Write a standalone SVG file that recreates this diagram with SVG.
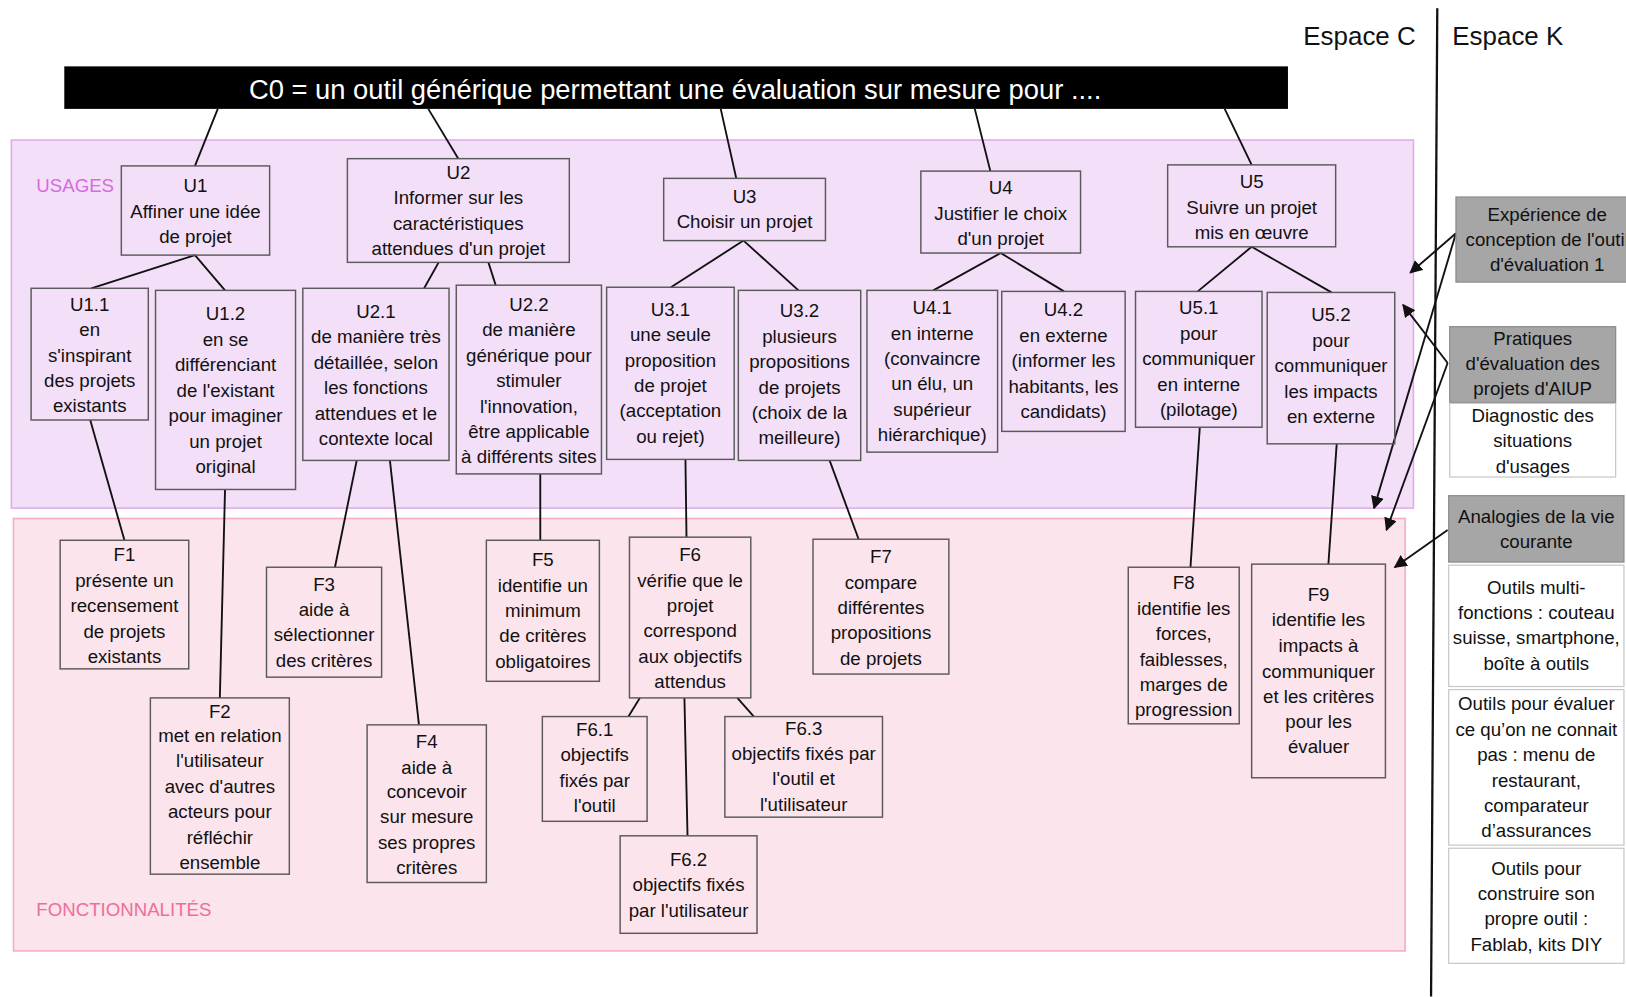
<svg xmlns="http://www.w3.org/2000/svg" width="1626" height="997" viewBox="0 0 1626 997">
<defs>
<style>
.t{font-family:"Liberation Sans",Arial,sans-serif;font-size:18px;text-anchor:middle;fill:#111}
.b{fill:none;stroke:#5a5a5a;stroke-width:1.4}
.g{fill:#a6a6a6;stroke:#8c8c8c;stroke-width:1.2}
.w{fill:#fff;stroke:#c8c8c8;stroke-width:1.2}
.c line{stroke:#111;stroke-width:1.8}
.a line{stroke:#111;stroke-width:1.8}
</style>
<marker id="ah" viewBox="0 0 10 10" refX="9" refY="5" markerWidth="7" markerHeight="7" orient="auto" markerUnits="strokeWidth">
<path d="M0,0 L10,5 L0,10 z" fill="#111"/>
</marker>
</defs>
<rect width="1626" height="997" fill="#fff"/>
<g transform="scale(1.037)">
<!-- regions -->
<g id="usages">
<rect x="11" y="135" width="1352" height="355" fill="#f3dff7" stroke="#e2a9f0" stroke-width="1.5"/>
<text x="35" y="185" style="font-family:'Liberation Sans',Arial,sans-serif;font-size:18px;fill:#d66be0">USAGES</text>
</g>
<g id="fonctionnalites">
<rect x="13" y="500" width="1342" height="417" fill="#fbe4ec" stroke="#f5aac5" stroke-width="1.5"/>
<text x="35" y="883" style="font-family:'Liberation Sans',Arial,sans-serif;font-size:18px;fill:#ef6d9b">FONCTIONNALITÉS</text>
</g>
<!-- headers -->
<g id="espaces">
<text x="1311" y="43" style="font-family:'Liberation Sans',Arial,sans-serif;font-size:25px;fill:#111;text-anchor:middle">Espace C</text>
<text x="1454" y="43" style="font-family:'Liberation Sans',Arial,sans-serif;font-size:25px;fill:#111;text-anchor:middle">Espace K</text>
<line x1="1386" y1="8" x2="1380" y2="961" stroke="#111" stroke-width="2.2"/>
</g>
<g id="C0">
<rect x="62" y="64" width="1180" height="41" fill="#000"/>
<text x="651" y="95" textLength="822" lengthAdjust="spacingAndGlyphs" style="font-family:'Liberation Sans',Arial,sans-serif;font-size:27px;fill:#fff;text-anchor:middle">C0 = un outil générique permettant une évaluation sur mesure pour ....</text>
</g>
<!-- connectors -->
<g id="connectors" class="c">
<line x1="210" y1="105" x2="188" y2="160"/>
<line x1="413" y1="105" x2="442" y2="153"/>
<line x1="695" y1="105" x2="710" y2="172"/>
<line x1="940" y1="105" x2="955" y2="165"/>
<line x1="1181" y1="105" x2="1207" y2="159"/>
<line x1="188" y1="246" x2="88" y2="278"/>
<line x1="188" y1="246" x2="217" y2="280"/>
<line x1="423" y1="253" x2="409" y2="278"/>
<line x1="471" y1="253" x2="478" y2="275"/>
<line x1="717" y1="232" x2="647" y2="277"/>
<line x1="717" y1="232" x2="770" y2="280"/>
<line x1="965" y1="244" x2="900" y2="280"/>
<line x1="965" y1="244" x2="1026" y2="281"/>
<line x1="1207" y1="238" x2="1155" y2="281"/>
<line x1="1207" y1="238" x2="1284" y2="282"/>
<line x1="87" y1="405" x2="120" y2="521"/>
<line x1="217" y1="472" x2="212" y2="673"/>
<line x1="344" y1="444" x2="323" y2="547"/>
<line x1="376" y1="444" x2="404" y2="699"/>
<line x1="521" y1="457" x2="521" y2="521"/>
<line x1="661" y1="443" x2="662" y2="518"/>
<line x1="800" y1="444" x2="828" y2="520"/>
<line x1="1157" y1="412" x2="1148" y2="547"/>
<line x1="1289" y1="428" x2="1281" y2="544"/>
<line x1="617" y1="673" x2="606" y2="691"/>
<line x1="660" y1="673" x2="663" y2="806"/>
<line x1="711" y1="673" x2="727" y2="691"/>
</g>
<g id="arrows" class="a">
<line x1="1404" y1="225" x2="1360" y2="263" marker-end="url(#ah)"/>
<line x1="1404" y1="225" x2="1325" y2="490" marker-end="url(#ah)"/>
<line x1="1396" y1="350" x2="1353" y2="294" marker-end="url(#ah)"/>
<line x1="1396" y1="350" x2="1337" y2="511" marker-end="url(#ah)"/>
<line x1="1396" y1="511" x2="1345" y2="547" marker-end="url(#ah)"/>
</g>
<!-- usage nodes -->
<g id="U1"><rect class="b" x="117" y="160" width="143" height="86"/><text class="t"><tspan x="188.5" y="185">U1</tspan><tspan x="188.5" y="210">Affiner une idée</tspan><tspan x="188.5" y="234">de projet</tspan></text></g>
<g id="U2"><rect class="b" x="335" y="153" width="214" height="100"/><text class="t"><tspan x="442" y="173">U2</tspan><tspan x="442" y="197">Informer sur les</tspan><tspan x="442" y="222">caractéristiques</tspan><tspan x="442" y="246">attendues d'un projet</tspan></text></g>
<g id="U3"><rect class="b" x="640" y="172" width="156" height="60"/><text class="t"><tspan x="718" y="196">U3</tspan><tspan x="718" y="220">Choisir un projet</tspan></text></g>
<g id="U4"><rect class="b" x="888" y="165" width="154" height="79"/><text class="t"><tspan x="965" y="187">U4</tspan><tspan x="965" y="212">Justifier le choix</tspan><tspan x="965" y="236">d'un projet</tspan></text></g>
<g id="U5"><rect class="b" x="1126" y="159" width="162" height="79"/><text class="t"><tspan x="1207" y="181">U5</tspan><tspan x="1207" y="206">Suivre un projet</tspan><tspan x="1207" y="230">mis en œuvre</tspan></text></g>
<g id="U1.1"><rect class="b" x="30" y="278" width="113" height="127"/><text class="t"><tspan x="86.5" y="300">U1.1</tspan><tspan x="86.5" y="324">en</tspan><tspan x="86.5" y="349">s'inspirant</tspan><tspan x="86.5" y="373">des projets</tspan><tspan x="86.5" y="397">existants</tspan></text></g>
<g id="U1.2"><rect class="b" x="150" y="280" width="135" height="192"/><text class="t"><tspan x="217.5" y="309">U1.2</tspan><tspan x="217.5" y="334">en se</tspan><tspan x="217.5" y="358">différenciant</tspan><tspan x="217.5" y="383">de l'existant</tspan><tspan x="217.5" y="407">pour imaginer</tspan><tspan x="217.5" y="432">un projet</tspan><tspan x="217.5" y="456">original</tspan></text></g>
<g id="U2.1"><rect class="b" x="292" y="278" width="141" height="166"/><text class="t"><tspan x="362.5" y="307">U2.1</tspan><tspan x="362.5" y="331">de manière très</tspan><tspan x="362.5" y="356">détaillée, selon</tspan><tspan x="362.5" y="380">les fonctions</tspan><tspan x="362.5" y="405">attendues et le</tspan><tspan x="362.5" y="429">contexte local</tspan></text></g>
<g id="U2.2"><rect class="b" x="440" y="275" width="140" height="182"/><text class="t"><tspan x="510" y="300">U2.2</tspan><tspan x="510" y="324">de manière</tspan><tspan x="510" y="349">générique pour</tspan><tspan x="510" y="373">stimuler</tspan><tspan x="510" y="398">l'innovation,</tspan><tspan x="510" y="422">être applicable</tspan><tspan x="510" y="446">à différents sites</tspan></text></g>
<g id="U3.1"><rect class="b" x="585" y="277" width="123" height="166"/><text class="t"><tspan x="646.5" y="305">U3.1</tspan><tspan x="646.5" y="329">une seule</tspan><tspan x="646.5" y="354">proposition</tspan><tspan x="646.5" y="378">de projet</tspan><tspan x="646.5" y="402">(acceptation</tspan><tspan x="646.5" y="427">ou rejet)</tspan></text></g>
<g id="U3.2"><rect class="b" x="712" y="280" width="118" height="164"/><text class="t"><tspan x="771" y="306">U3.2</tspan><tspan x="771" y="331">plusieurs</tspan><tspan x="771" y="355">propositions</tspan><tspan x="771" y="380">de projets</tspan><tspan x="771" y="404">(choix de la</tspan><tspan x="771" y="428">meilleure)</tspan></text></g>
<g id="U4.1"><rect class="b" x="836" y="280" width="126" height="156"/><text class="t"><tspan x="899" y="303">U4.1</tspan><tspan x="899" y="328">en interne</tspan><tspan x="899" y="352">(convaincre</tspan><tspan x="899" y="376">un élu, un</tspan><tspan x="899" y="401">supérieur</tspan><tspan x="899" y="425">hiérarchique)</tspan></text></g>
<g id="U4.2"><rect class="b" x="966" y="281" width="119" height="135"/><text class="t"><tspan x="1025.5" y="305">U4.2</tspan><tspan x="1025.5" y="330">en externe</tspan><tspan x="1025.5" y="354">(informer les</tspan><tspan x="1025.5" y="379">habitants, les</tspan><tspan x="1025.5" y="403">candidats)</tspan></text></g>
<g id="U5.1"><rect class="b" x="1095" y="281" width="122" height="131"/><text class="t"><tspan x="1156" y="303">U5.1</tspan><tspan x="1156" y="328">pour</tspan><tspan x="1156" y="352">communiquer</tspan><tspan x="1156" y="377">en interne</tspan><tspan x="1156" y="401">(pilotage)</tspan></text></g>
<g id="U5.2"><rect class="b" x="1222" y="282" width="123" height="146"/><text class="t"><tspan x="1283.5" y="310">U5.2</tspan><tspan x="1283.5" y="335">pour</tspan><tspan x="1283.5" y="359">communiquer</tspan><tspan x="1283.5" y="384">les impacts</tspan><tspan x="1283.5" y="408">en externe</tspan></text></g>
<!-- function nodes -->
<g id="F1"><rect class="b" x="58" y="521" width="124" height="124"/><text class="t"><tspan x="120" y="541">F1</tspan><tspan x="120" y="566">présente un</tspan><tspan x="120" y="590">recensement</tspan><tspan x="120" y="615">de projets</tspan><tspan x="120" y="639">existants</tspan></text></g>
<g id="F2"><rect class="b" x="145" y="673" width="134" height="170"/><text class="t"><tspan x="212" y="692">F2</tspan><tspan x="212" y="716">met en relation</tspan><tspan x="212" y="740">l'utilisateur</tspan><tspan x="212" y="765">avec d'autres</tspan><tspan x="212" y="789">acteurs pour</tspan><tspan x="212" y="814">réfléchir</tspan><tspan x="212" y="838">ensemble</tspan></text></g>
<g id="F3"><rect class="b" x="257" y="547" width="111" height="106"/><text class="t"><tspan x="312.5" y="570">F3</tspan><tspan x="312.5" y="594">aide à</tspan><tspan x="312.5" y="618">sélectionner</tspan><tspan x="312.5" y="643">des critères</tspan></text></g>
<g id="F4"><rect class="b" x="354" y="699" width="115" height="152"/><text class="t"><tspan x="411.5" y="721">F4</tspan><tspan x="411.5" y="746">aide à</tspan><tspan x="411.5" y="770">concevoir</tspan><tspan x="411.5" y="794">sur mesure</tspan><tspan x="411.5" y="819">ses propres</tspan><tspan x="411.5" y="843">critères</tspan></text></g>
<g id="F5"><rect class="b" x="469" y="521" width="109" height="136"/><text class="t"><tspan x="523.5" y="546">F5</tspan><tspan x="523.5" y="571">identifie un</tspan><tspan x="523.5" y="595">minimum</tspan><tspan x="523.5" y="619">de critères</tspan><tspan x="523.5" y="644">obligatoires</tspan></text></g>
<g id="F6"><rect class="b" x="607" y="518" width="117" height="155"/><text class="t"><tspan x="665.5" y="541">F6</tspan><tspan x="665.5" y="566">vérifie que le</tspan><tspan x="665.5" y="590">projet</tspan><tspan x="665.5" y="614">correspond</tspan><tspan x="665.5" y="639">aux objectifs</tspan><tspan x="665.5" y="663">attendus</tspan></text></g>
<g id="F6.1"><rect class="b" x="523" y="691" width="101" height="101"/><text class="t"><tspan x="573.5" y="710">F6.1</tspan><tspan x="573.5" y="734">objectifs</tspan><tspan x="573.5" y="759">fixés par</tspan><tspan x="573.5" y="783">l'outil</tspan></text></g>
<g id="F6.2"><rect class="b" x="598" y="806" width="132" height="94"/><text class="t"><tspan x="664" y="835">F6.2</tspan><tspan x="664" y="859">objectifs fixés</tspan><tspan x="664" y="884">par l'utilisateur</tspan></text></g>
<g id="F6.3"><rect class="b" x="699" y="691" width="152" height="97"/><text class="t"><tspan x="775" y="709">F6.3</tspan><tspan x="775" y="733">objectifs fixés par</tspan><tspan x="775" y="757">l'outil et</tspan><tspan x="775" y="782">l'utilisateur</tspan></text></g>
<g id="F7"><rect class="b" x="784" y="520" width="131" height="130"/><text class="t"><tspan x="849.5" y="543">F7</tspan><tspan x="849.5" y="568">compare</tspan><tspan x="849.5" y="592">différentes</tspan><tspan x="849.5" y="616">propositions</tspan><tspan x="849.5" y="641">de projets</tspan></text></g>
<g id="F8"><rect class="b" x="1088" y="547" width="107" height="151"/><text class="t"><tspan x="1141.5" y="568">F8</tspan><tspan x="1141.5" y="593">identifie les</tspan><tspan x="1141.5" y="617">forces,</tspan><tspan x="1141.5" y="642">faiblesses,</tspan><tspan x="1141.5" y="666">marges de</tspan><tspan x="1141.5" y="690">progression</tspan></text></g>
<g id="F9"><rect class="b" x="1207" y="544" width="129" height="206"/><text class="t"><tspan x="1271.5" y="580">F9</tspan><tspan x="1271.5" y="604">identifie les</tspan><tspan x="1271.5" y="629">impacts à</tspan><tspan x="1271.5" y="654">communiquer</tspan><tspan x="1271.5" y="678">et les critères</tspan><tspan x="1271.5" y="702">pour les</tspan><tspan x="1271.5" y="726">évaluer</tspan></text></g>
<!-- knowledge boxes -->
<g id="K1"><rect class="g" x="1404" y="190" width="180" height="82"/><text class="t"><tspan x="1492" y="213">Expérience de</tspan><tspan x="1492" y="237">conception de l'outil</tspan><tspan x="1492" y="261">d'évaluation 1</tspan></text></g>
<g id="K2"><rect class="g" x="1398" y="315" width="160" height="73"/><text class="t"><tspan x="1478" y="333">Pratiques</tspan><tspan x="1478" y="357">d'évaluation des</tspan><tspan x="1478" y="381">projets d'AIUP</tspan></text>
<rect class="w" x="1398" y="389" width="160" height="71"/><text class="t"><tspan x="1478" y="407">Diagnostic des</tspan><tspan x="1478" y="431">situations</tspan><tspan x="1478" y="456">d'usages</tspan></text></g>
<g id="K3"><rect class="g" x="1397" y="478" width="169" height="64"/><text class="t"><tspan x="1481.5" y="504">Analogies de la vie</tspan><tspan x="1481.5" y="528">courante</tspan></text>
<rect class="w" x="1397" y="545" width="169" height="117"/><text class="t"><tspan x="1481.5" y="573">Outils multi-</tspan><tspan x="1481.5" y="597">fonctions : couteau</tspan><tspan x="1481.5" y="621">suisse, smartphone,</tspan><tspan x="1481.5" y="646">boîte à outils</tspan></text>
<rect class="w" x="1397" y="665" width="169" height="150"/><text class="t"><tspan x="1481.5" y="685">Outils pour évaluer</tspan><tspan x="1481.5" y="710">ce qu’on ne connait</tspan><tspan x="1481.5" y="734">pas : menu de</tspan><tspan x="1481.5" y="759">restaurant,</tspan><tspan x="1481.5" y="783">comparateur</tspan><tspan x="1481.5" y="807">d’assurances</tspan></text>
<rect class="w" x="1397" y="818" width="169" height="111"/><text class="t"><tspan x="1481.5" y="844">Outils pour</tspan><tspan x="1481.5" y="868">construire son</tspan><tspan x="1481.5" y="892">propre outil :</tspan><tspan x="1481.5" y="917">Fablab, kits DIY</tspan></text></g>
</g>
</svg>
